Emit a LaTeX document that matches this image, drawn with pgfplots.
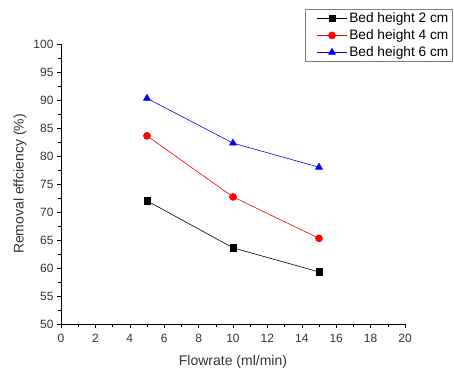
\documentclass[border=0pt]{standalone}
\usepackage{pgfplots}
\pgfplotsset{compat=1.18}
\usepackage{fontspec}
\setmainfont{Liberation Sans}
\definecolor{txt}{HTML}{333333}
\definecolor{myred}{HTML}{FF0000}
\definecolor{myblue}{HTML}{0000FF}
\begin{document}
\begin{tikzpicture}
\begin{axis}[
  scale only axis,
  width=344pt, height=280pt,
  xmin=0, xmax=20, ymin=50, ymax=100,
  axis lines*=left,
  axis line style={black, line width=0.7pt},
  xtick={0,2,...,20}, ytick={50,55,...,100},
  minor x tick num=1, minor y tick num=1,
  tick align=outside,
  major tick length=4pt, minor tick length=2.5pt,
  tick style={black, line width=0.6pt},
  /pgf/number format/assume math mode=true,
  ticklabel style={font=\fontsize{12}{14}\selectfont, text=txt},
  xticklabel style={yshift=-3pt},
  xlabel={Flowrate (ml/min)},
  ylabel={Removal effciency (\%)},
  label style={font=\fontsize{14}{16}\selectfont, text=txt},
  xlabel style={yshift=-5pt},
  legend style={at={(1.137,1.125)}, anchor=north east, draw=gray, line width=0.6pt,
    font=\fontsize{13.7}{15}\selectfont, text=black, inner sep=1.5pt, row sep=1.5pt,
    legend cell align=left},
  legend image code/.code={\path (-10pt,0pt); \draw[mark repeat=2,mark phase=2] plot coordinates {(0pt,0pt) (15pt,0pt) (30pt,0pt)};},
  clip=false,
]
\addplot[black, line width=0.6pt, mark=square*, mark size=3.2pt, mark options={solid}] coordinates {(5,72.0) (10,63.6) (15,59.3)};
\addlegendentry{Bed height 2 cm}
\addplot[myred, line width=0.6pt, mark=*, mark size=3.5pt] coordinates {(5,83.6) (10,72.7) (15,65.3)};
\addlegendentry{Bed height 4 cm}
\addplot[myblue, line width=0.6pt, mark=triangle*, mark size=4pt] coordinates {(5,90.3) (10,82.3) (15,78.0)};
\addlegendentry{Bed height 6 cm}
\coordinate (sw) at (rel axis cs:0,0);
\end{axis}
\pgfresetboundingbox
\path[use as bounding box] ([shift={(-61pt,-44pt)}]sw) rectangle ([shift={(393pt,324pt)}]sw);
\end{tikzpicture}
\end{document}
